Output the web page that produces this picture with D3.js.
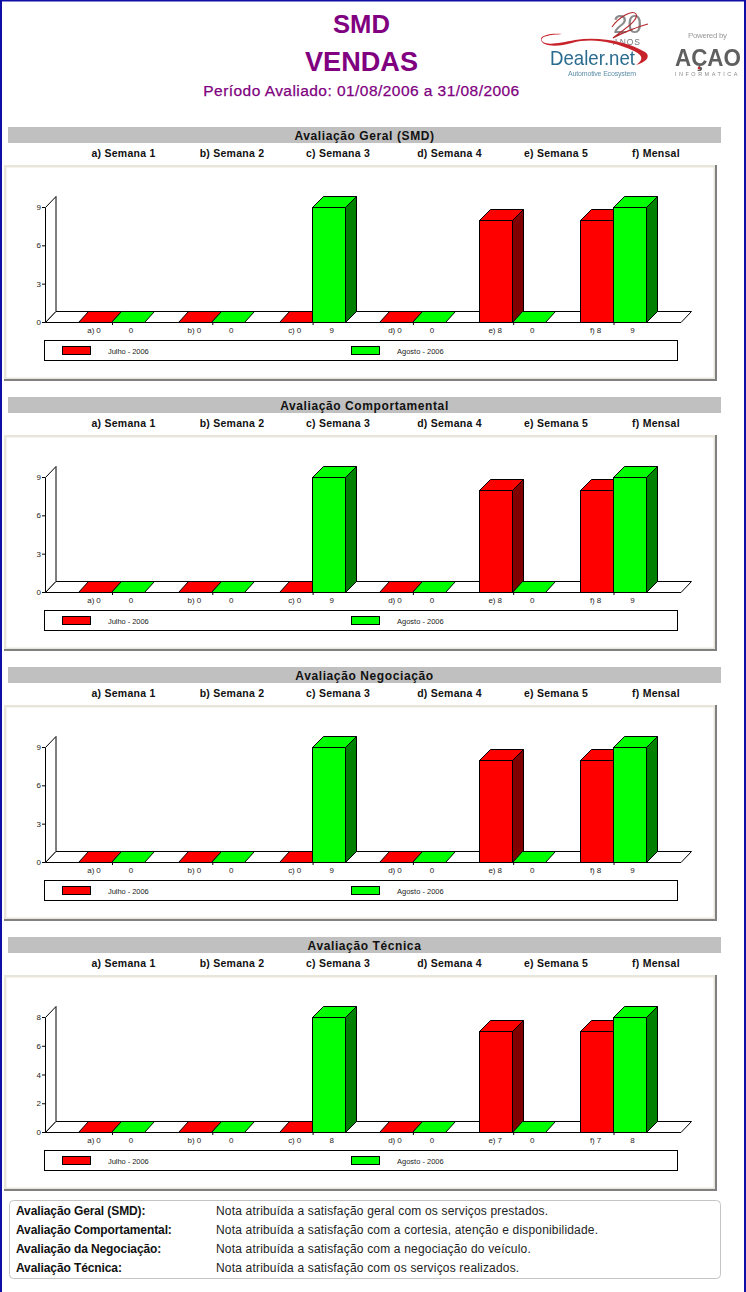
<!DOCTYPE html>
<html><head><meta charset="utf-8">
<script src="https://cdn.jsdelivr.net/npm/d3@7"></script>
<style>html,body{margin:0;padding:0;background:#fff}svg{display:block}text{font-family:"Liberation Sans",Arial,sans-serif}</style>
</head><body><div id="c"></div>
<script>
const categories = ["a)", "b)", "c)", "d)", "e)", "f)"];
const weekHeaders = ["a) Semana 1", "b) Semana 2", "c) Semana 3", "d) Semana 4", "e) Semana 5", "f) Mensal"];
const panelTitles = ["Avaliação Geral (SMD)", "Avaliação Comportamental", "Avaliação Negociação", "Avaliação Técnica"];
const seriesNames = ["Julho - 2006", "Agosto - 2006"];
const julhoValues = [[0,0,0,0,8,8],[0,0,0,0,8,8],[0,0,0,0,8,8],[0,0,0,0,7,7]];
const agostoValues = [[0,0,9,0,0,9],[0,0,9,0,0,9],[0,0,9,0,0,9],[0,0,8,0,0,8]];
const yTicks = [[0,3,6,9],[0,3,6,9],[0,3,6,9],[0,2,4,6,8]];
const noteLabels = ["Avaliação Geral (SMD):","Avaliação Comportamental:","Avaliação da Negociação:","Avaliação Técnica:"];
const noteTexts = ["Nota atribuída a satisfação geral com os serviços prestados.","Nota atribuída a satisfação com a cortesia, atenção e disponibilidade.","Nota atribuída a satisfação com a negociação do veículo.","Nota atribuída a satisfação com os serviços realizados."];
const headerCenters = [123.5, 232, 338, 449.5, 556, 656];

const W = 746, H = 1292, PANEL_STEP = 270;
const svg = d3.select("#c").append("svg").attr("width", W).attr("height", H);
const purple = "#800080";
svg.append("rect").attr("width", W).attr("height", H).attr("fill", "#fff");

// Title block
const title = (t, y, size, weight, ls) => svg.append("text").attr("x", 361.5).attr("y", y).attr("text-anchor", "middle")
  .attr("font-size", size).attr("font-weight", weight).attr("fill", purple).attr("letter-spacing", ls).text(t);
title("SMD", 33, 26, "bold", 0).attr("textLength", 57).attr("lengthAdjust", "spacingAndGlyphs");
title("VENDAS", 70.5, 28, "bold", 0).attr("textLength", 113).attr("lengthAdjust", "spacingAndGlyphs");
title("Período Avaliado: 01/08/2006 a 31/08/2006", 96, 15.5, "normal", 0.45).attr("stroke", purple).attr("stroke-width", 0.25);

// Logos
const defs = svg.append("defs");
defs.append("filter").attr("id", "soft").append("feGaussianBlur").attr("stdDeviation", 0.35);
const logo = svg.append("g").attr("filter", "url(#soft)");
logo.append("text").attr("x", 613).attr("y", 33).attr("font-size", 26).attr("fill", "#8a8a8a").attr("textLength", 29).attr("lengthAdjust", "spacingAndGlyphs").text("20");
logo.append("path").attr("d", "M612 27 C618 18 632 9 636 14 C640 20 620 32 613 38 C622 33 640 26 648 24").attr("fill", "none").attr("stroke", "#b3262c").attr("stroke-width", 1.1);
logo.append("text").attr("x", 613).attr("y", 45).attr("font-size", 8.5).attr("fill", "#777").attr("textLength", 27).text("ANOS");
logo.append("path").attr("d", "M562 34 C550 35 540 36 542 41 C546 46 560 43 575 40 C600 36 628 42 645 52 C651 56 647 62 636 65 C643 60 644 56 634 51 C612 41 590 38 572 43 C558 47 541 47 541 39 C541 35 552 33 562 34Z").attr("fill", "#c8242b");
logo.append("text").attr("x", 550).attr("y", 65).attr("font-family", "Liberation Serif").attr("font-size", 21).attr("fill", "#2b6c8f").attr("textLength", 85).attr("lengthAdjust", "spacingAndGlyphs").text("Dealer.net");
logo.append("text").attr("x", 568).attr("y", 76).attr("font-size", 7).attr("fill", "#5d8ea8").attr("textLength", 68).text("Automotive Ecosystem");
logo.append("text").attr("x", 688).attr("y", 38).attr("font-size", 8).attr("fill", "#9a9a9a").attr("textLength", 39).text("Powered by");
logo.append("text").attr("x", 675).attr("y", 66).attr("font-size", 23).attr("font-weight", "bold").attr("fill", "#5f5f5f").attr("textLength", 66).attr("lengthAdjust", "spacingAndGlyphs").text("AÇAO");
logo.append("circle").attr("cx", 699).attr("cy", 68).attr("r", 1.3).attr("fill", "#c8242b");
logo.append("text").attr("x", 675).attr("y", 76).attr("font-size", 5.5).attr("letter-spacing", 2.5).attr("fill", "#8a8a8a").text("INFORMATICA");

// Shared scales
const colors = [{front:"#ff0000", side:"#800000"}, {front:"#00ff00", side:"#008000"}];
const BAR = 33, D = 11, DX = 10.5;
const xTick = d3.scalePoint().domain(categories).range([112, 613.5]);
const X0 = 45, X1 = 681, Y0 = 322, YTOP = 207;
const crisp = v => Math.round(v) + 0.5;
const crispX = v => Math.round(v) - 0.5;

panelTitles.forEach((pt, p) => {
  const g = svg.append("g").attr("transform", `translate(0,${p * PANEL_STEP})`);
  // heading bar
  g.append("rect").attr("x", 8).attr("y", 127).attr("width", 713).attr("height", 16).attr("fill", "#c0c0c0");
  g.append("text").attr("x", 364.5).attr("y", 139.5).attr("text-anchor", "middle").attr("font-size", 12).attr("font-weight", "bold").attr("letter-spacing", 0.6).attr("fill", "#111").text(pt);
  weekHeaders.forEach((h, i) => g.append("text").attr("x", headerCenters[i]).attr("y", 157).attr("text-anchor", "middle").attr("font-size", 10.5).attr("font-weight", "bold").attr("letter-spacing", 0.25).attr("fill", "#111").text(h));
  // bevel frame
  g.append("rect").attr("x", 4).attr("y", 165).attr("width", 713).attr("height", 216).attr("fill", "#e8e6da");
  g.append("path").attr("d", "M4 381H717V165H715V379H4Z").attr("fill", "#808080");
  g.append("rect").attr("x", 6.5).attr("y", 167.5).attr("width", 707).attr("height", 210).attr("fill", "#fff");

  const maxV = yTicks[p][yTicks[p].length - 1];
  const y = d3.scaleLinear().domain([0, maxV]).range([Y0, YTOP]);
  // wall + floor
  g.append("path").attr("d", `M${X0+.5} ${y(0)+.5}V${y(maxV)+.5}L${X0+DX+.5} ${y(maxV)-D+.5}V${y(0)-D+.5}Z`).attr("fill", "#fff").attr("stroke", "#000");
  g.append("path").attr("d", `M${X0+.5} ${y(0)+.5}L${X0+DX+.5} ${y(0)-D+.5}H${X1+DX}L${X1} ${y(0)+.5}Z`).attr("fill", "#fff").attr("stroke", "#000");
  // axes
  const ya = g.append("g").attr("transform", `translate(${X0},0)`).call(d3.axisLeft(y).tickValues(yTicks[p]).tickSize(3).tickPadding(1).tickFormat(d3.format("d")));
  ya.select(".domain").remove();
  ya.selectAll("text").attr("font-size", 8).attr("font-family", "Liberation Sans").attr("fill", "#222");
  const xa = g.append("g").attr("transform", `translate(0,${Y0})`).call(d3.axisBottom(xTick).tickSize(3).tickFormat(""));
  xa.select(".domain").remove();

  // bars
  categories.forEach((c, i) => {
    [julhoValues[p][i], agostoValues[p][i]].forEach((v, s) => {
      const x = crispX(xTick(c) + (s - 1) * BAR), top = crisp(y(v)), col = colors[s], r = x + BAR, base = crisp(y(0));
      const dx = v > 0 ? D : 10;
      if (v > 0) {
        g.append("path").attr("d", `M${r} ${top}L${r+D} ${top-D}V${base-D}L${r} ${base}Z`).attr("fill", col.side).attr("stroke", "#000");
        g.append("rect").attr("x", x).attr("y", top).attr("width", BAR).attr("height", base - top).attr("fill", col.front).attr("stroke", "#000");
      }
      g.append("path").attr("d", `M${x} ${top}L${x+dx} ${top-D}H${r+dx}L${r} ${top}Z`).attr("fill", col.front).attr("stroke", "#000");
      const lab = s === 0 ? `${c} ${v}` : `${v}`;
      g.append("text").attr("x", xTick(c) + (s === 0 ? -18 : 19)).attr("y", 333).attr("text-anchor", "middle").attr("font-size", 8).attr("letter-spacing", -0.1).attr("fill", "#222").text(lab);
    });
  });

  // legend
  g.append("rect").attr("x", 44.5).attr("y", 340.5).attr("width", 633).attr("height", 20).attr("fill", "#fff").attr("stroke", "#000");
  const legendX = d3.scalePoint().domain(seriesNames).range([62.5, 351.5]);
  seriesNames.forEach((n, s) => {
    g.append("rect").attr("x", legendX(n)).attr("y", 346.5).attr("width", 28).attr("height", 8).attr("fill", colors[s].front).attr("stroke", "#000");
    g.append("text").attr("x", legendX(n) + 45.5).attr("y", 354).attr("font-size", 7.5).attr("letter-spacing", s ? 0 : -0.05).attr("fill", "#222").text(n);
  });
});

// notes
svg.append("rect").attr("x", 9.5).attr("y", 1200.5).attr("width", 711).attr("height", 78).attr("rx", 4).attr("fill", "#fff").attr("stroke", "#c4c4c4");
noteLabels.forEach((n, i) => {
  const yy = 1215 + i * 19;
  svg.append("text").attr("x", 16).attr("y", yy).attr("font-size", 12).attr("font-weight", "bold").attr("letter-spacing", -0.1).attr("fill", "#111").text(n);
  svg.append("text").attr("x", 216).attr("y", yy).attr("font-size", 12).attr("letter-spacing", 0.18).attr("fill", "#222").text(noteTexts[i]);
});

// window edge
svg.append("rect").attr("width", 2).attr("height", H).attr("fill", "#0f0fa8");
svg.append("rect").attr("x", 744).attr("width", 2).attr("height", H).attr("fill", "#0f0fa8");
svg.append("rect").attr("width", W).attr("height", 1.5).attr("fill", "#0f0fa8");
</script></body></html>
